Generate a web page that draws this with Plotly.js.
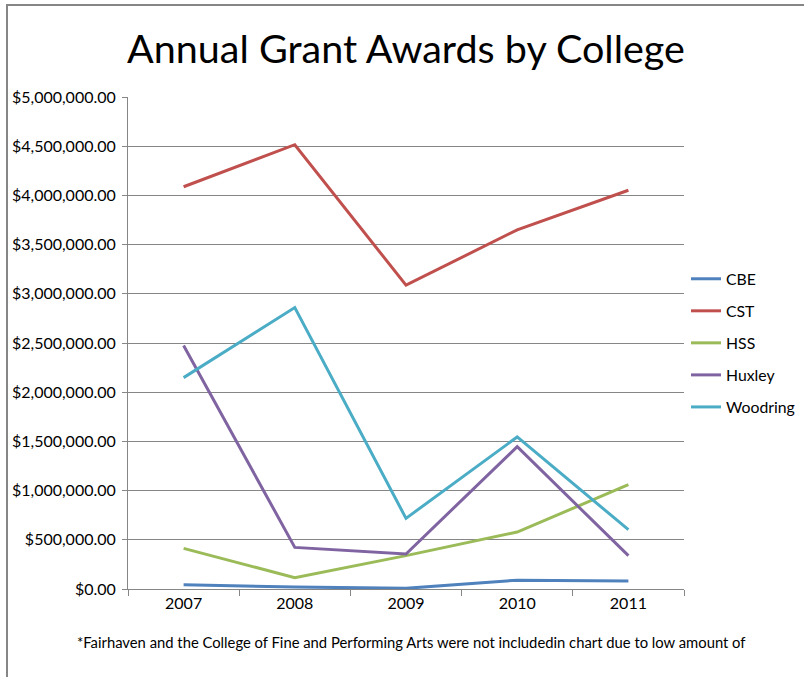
<!DOCTYPE html>
<html>
<head>
<meta charset="utf-8">
<script src="https://cdn.plot.ly/plotly-3.0.1.min.js"></script>
<style>
  html, body { margin: 0; padding: 0; background: #ffffff; }
  #chart { width: 804px; height: 677px; }
</style>
</head>
<body>
<div id="chart"></div>
<script>
const years = ['2007', '2008', '2009', '2010', '2011'];
const seriesNames = ['CBE', 'CST', 'HSS', 'Huxley', 'Woodring'];
const cbe = [44000, 20000, 7000, 90000, 81000];
const cst = [4088000, 4515000, 3088000, 3650000, 4052000];
const hss = [413000, 115000, 339000, 579000, 1060000];
const huxley = [2475000, 423000, 356000, 1446000, 339000];
const woodring = [2148000, 2860000, 718000, 1545000, 603000];
const yTickVals = [0, 500000, 1000000, 1500000, 2000000, 2500000, 3000000, 3500000, 4000000, 4500000, 5000000];
const yTickText = ['$0.00', '$500,000.00', '$1,000,000.00', '$1,500,000.00', '$2,000,000.00', '$2,500,000.00',
                   '$3,000,000.00', '$3,500,000.00', '$4,000,000.00', '$4,500,000.00', '$5,000,000.00'];
const colors = ['#4F81BD', '#C0504D', '#9BBB59', '#8064A2', '#4BACC6'];
const titleText = 'Annual Grant Awards by College';
const footnote = '*Fairhaven and the College of Fine and Performing Arts were not includedin chart due to low amount of';

const allSeries = [cbe, cst, hss, huxley, woodring];
const FONT = 'Lato, "Open Sans", sans-serif';

const traces = allSeries.map((vals, i) => ({
  x: years,
  y: vals,
  name: seriesNames[i],
  type: 'scatter',
  mode: 'lines',
  legendgroup: 'g' + i,
  line: { color: colors[i], width: 3 },
  hoverinfo: 'x+y+name'
}));

const W = 804, H = 677;
const L = 128, R = 120, T = 97, B = 88;
const pw = W - L - R, ph = H - T - B;
const px = (x) => (x - L) / pw;
const py = (y) => (H - B - y) / ph;

const layout = {
  width: W,
  height: H,
  margin: { l: L, r: R, t: T, b: B, pad: 0, autoexpand: false },
  paper_bgcolor: '#ffffff',
  plot_bgcolor: '#ffffff',
  font: { family: FONT, color: '#000000', size: 13 },
  title: {
    text: titleText,
    font: { family: FONT, size: 39.5, color: '#000000' },
    x: 0.5, xanchor: 'center',
    y: 1 - 49 / H, yanchor: 'middle',
    xref: 'paper'
  },
  xaxis: {
    type: 'category',
    range: [-0.5, 4.5],
    showgrid: false,
    showline: true,
    linecolor: '#868686',
    linewidth: 1,
    ticks: 'outside',
    tickson: 'boundaries',
    ticklen: 6,
    tickcolor: '#868686',
    tickfont: { family: FONT, size: 16, color: '#000000' },
    zeroline: false,
    fixedrange: true
  },
  yaxis: {
    range: [0, 5000000],
    tickvals: yTickVals,
    ticktext: yTickText,
    showgrid: true,
    gridcolor: '#868686',
    gridwidth: 1,
    showline: true,
    linecolor: '#868686',
    linewidth: 1,
    ticks: 'outside',
    ticklen: 5,
    tickcolor: '#868686',
    ticklabelstandoff: 3,
    tickfont: { family: FONT, size: 16, color: '#000000' },
    zeroline: false,
    fixedrange: true
  },
  legend: {
    xref: 'container',
    yref: 'container',
    x: 686 / W,
    xanchor: 'left',
    y: 1 - 262 / H,
    yanchor: 'top',
    font: { family: FONT, size: 15.8, color: '#000000' },
    bgcolor: 'rgba(0,0,0,0)',
    borderwidth: 0,
    tracegroupgap: 8.5,
    itemwidth: 30
  },
  showlegend: true,
  annotations: [{
    text: footnote,
    xref: 'paper', yref: 'paper',
    x: px(75), xanchor: 'left',
    y: py(642), yanchor: 'middle',
    showarrow: false,
    font: { family: FONT, size: 14.8, color: '#000000' }
  }],
  shapes: [{
    type: 'rect',
    xref: 'paper', yref: 'paper',
    x0: px(7), x1: px(810),
    y0: py(690), y1: py(5),
    line: { color: '#868686', width: 2 },
    fillcolor: 'rgba(0,0,0,0)',
    layer: 'below'
  }]
};

Plotly.newPlot('chart', traces, layout, { displayModeBar: false, staticPlot: false });
</script>
</body>
</html>
